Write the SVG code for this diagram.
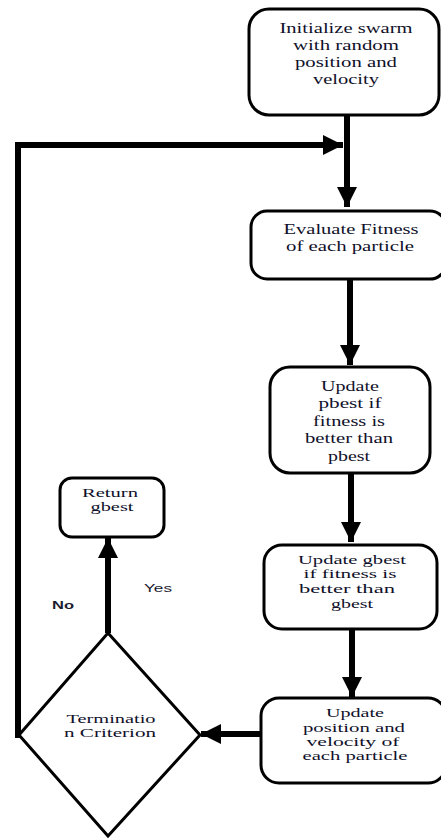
<svg xmlns="http://www.w3.org/2000/svg" width="441" height="839" viewBox="0 0 441 839">
<defs>
<style>
.box{fill:#fff;stroke:#000;stroke-width:3}
.t{font-size:14px;fill:#10102a;text-anchor:middle}
.s{font-size:13px}
.d{font-size:12px}
.lbl{font-size:11px;fill:#1a1a2e}
.b{font-weight:bold}
.c{fill:none;stroke:#000;stroke-width:6}
</style>
<marker id="ah" markerUnits="userSpaceOnUse" markerWidth="22" markerHeight="22" viewBox="0 0 22 22" refX="20" refY="11" orient="auto">
<path d="M0,1 L20,11 L0,21 Z" fill="#000"/>
</marker>
</defs>
<rect width="441" height="839" fill="#fff"/>
<g id="connectors">
<path class="c" d="M347,115 V207" marker-end="url(#ah)"/>
<path class="c" d="M18,738 V145 H343" stroke-width="5" marker-end="url(#ah)"/>
<path class="c" d="M350,279 V365" marker-end="url(#ah)"/>
<path class="c" d="M351,473 V542" marker-end="url(#ah)"/>
<path class="c" d="M352,629 V697" marker-end="url(#ah)"/>
<path class="c" d="M260,734 H201" stroke-width="4" marker-end="url(#ah)"/>
<path class="c" d="M108,633 V538" stroke-width="5" marker-end="url(#ah)"/>
</g>
<g id="init">
<rect class="box" x="249" y="9" width="190" height="106" rx="20"/>
<text class="t" font-family="Liberation Serif, serif"><tspan x="346" y="33" textLength="133" lengthAdjust="spacingAndGlyphs">Initialize swarm</tspan><tspan x="346" y="50" textLength="106" lengthAdjust="spacingAndGlyphs">with random</tspan><tspan x="346" y="67" textLength="102" lengthAdjust="spacingAndGlyphs">position and</tspan><tspan x="346" y="84" textLength="66" lengthAdjust="spacingAndGlyphs">velocity</tspan></text>
</g>
<g id="evaluate">
<rect class="box" x="251" y="211" width="195" height="68" rx="16"/>
<text class="t" font-family="Liberation Serif, serif"><tspan x="351" y="234" textLength="135" lengthAdjust="spacingAndGlyphs">Evaluate Fitness</tspan><tspan x="350" y="251" textLength="128" lengthAdjust="spacingAndGlyphs">of each particle</tspan></text>
</g>
<g id="pbest">
<rect class="box" x="270" y="367" width="160" height="106" rx="20"/>
<text class="t" font-family="Liberation Serif, serif"><tspan x="350" y="391" textLength="58" lengthAdjust="spacingAndGlyphs">Update</tspan><tspan x="350" y="408" textLength="63" lengthAdjust="spacingAndGlyphs">pbest if</tspan><tspan x="349" y="426" textLength="72" lengthAdjust="spacingAndGlyphs">fitness is</tspan><tspan x="349" y="443" textLength="88" lengthAdjust="spacingAndGlyphs">better than</tspan><tspan x="349" y="461" textLength="42" lengthAdjust="spacingAndGlyphs">pbest</tspan></text>
</g>
<g id="return">
<rect class="box" x="60" y="478" width="104" height="59" rx="12"/>
<text class="t s" font-family="Liberation Serif, serif"><tspan x="110" y="497" textLength="56" lengthAdjust="spacingAndGlyphs">Return</tspan><tspan x="112" y="511" textLength="43" lengthAdjust="spacingAndGlyphs">gbest</tspan></text>
</g>
<g id="gbest">
<rect class="box" x="264" y="545" width="173" height="84" rx="18"/>
<text class="t s" font-family="Liberation Serif, serif"><tspan x="352" y="564" textLength="108" lengthAdjust="spacingAndGlyphs">Update gbest</tspan><tspan x="350" y="578" textLength="93" lengthAdjust="spacingAndGlyphs">if fitness is</tspan><tspan x="347" y="593" textLength="96" lengthAdjust="spacingAndGlyphs">better than</tspan><tspan x="352" y="608" textLength="42" lengthAdjust="spacingAndGlyphs">gbest</tspan></text>
</g>
<g id="update">
<rect class="box" x="261" y="698" width="185" height="85" rx="18"/>
<text class="t s" font-family="Liberation Serif, serif"><tspan x="355" y="717" textLength="58" lengthAdjust="spacingAndGlyphs">Update</tspan><tspan x="354" y="732" textLength="102" lengthAdjust="spacingAndGlyphs">position and</tspan><tspan x="353" y="746" textLength="93" lengthAdjust="spacingAndGlyphs">velocity of</tspan><tspan x="355" y="760" textLength="105" lengthAdjust="spacingAndGlyphs">each particle</tspan></text>
</g>
<g id="termination">
<path d="M108,633 L200,735 L108,836 L19,735 Z" fill="#fff" stroke="#000" stroke-width="3"/>
<text class="t d" font-family="Liberation Serif, serif"><tspan x="111" y="723" textLength="89" lengthAdjust="spacingAndGlyphs">Terminatio</tspan><tspan x="110" y="737" textLength="92" lengthAdjust="spacingAndGlyphs">n Criterion</tspan></text>
</g>
<g id="labels">
<text class="lbl b" font-family="Liberation Sans, Arial, sans-serif" x="52" y="609" textLength="22" lengthAdjust="spacingAndGlyphs">No</text>
<text class="lbl" font-family="Liberation Sans, Arial, sans-serif" x="144" y="592" textLength="28" lengthAdjust="spacingAndGlyphs">Yes</text>
</g>
</svg>
